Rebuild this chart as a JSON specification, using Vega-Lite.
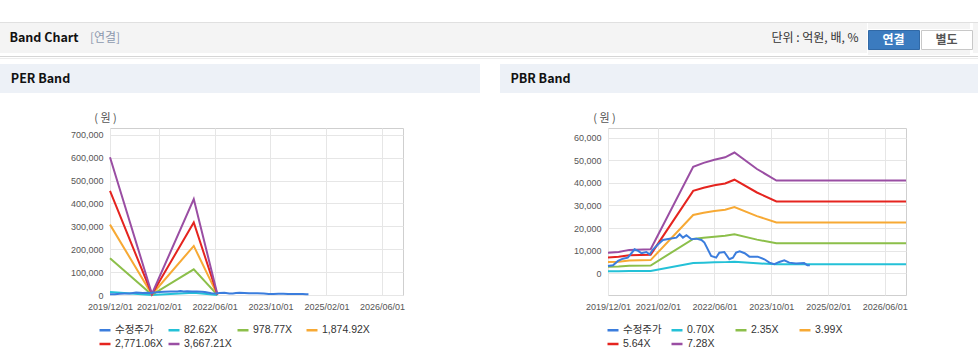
{
  "$schema": "https://vega.github.io/schema/vega-lite/v6.json",
  "background": "white",
  "padding": {"top": 21, "left": 0, "right": 0, "bottom": 0},
  "config": {"view": {"stroke": null}, "font": "Noto Sans CJK KR"},
  "datasets": {
    "price": [
      {"date": "2019-12-01", "series": "수정주가", "value": 3230},
      {"date": "2020-01-13", "series": "수정주가", "value": 3540},
      {"date": "2020-02-25", "series": "수정주가", "value": 5440},
      {"date": "2020-04-07", "series": "수정주가", "value": 6460},
      {"date": "2020-05-19", "series": "수정주가", "value": 6900},
      {"date": "2020-06-19", "series": "수정주가", "value": 8850},
      {"date": "2020-07-16", "series": "수정주가", "value": 10600},
      {"date": "2020-08-16", "series": "수정주가", "value": 9870},
      {"date": "2020-09-13", "series": "수정주가", "value": 8850},
      {"date": "2020-10-25", "series": "수정주가", "value": 9400},
      {"date": "2020-11-22", "series": "수정주가", "value": 8400},
      {"date": "2020-12-22", "series": "수정주가", "value": 10600},
      {"date": "2021-02-04", "series": "수정주가", "value": 12830},
      {"date": "2021-03-16", "series": "수정주가", "value": 14730},
      {"date": "2021-05-13", "series": "수정주가", "value": 15300},
      {"date": "2021-07-10", "series": "수정주가", "value": 15750},
      {"date": "2021-08-07", "series": "수정주가", "value": 17260},
      {"date": "2021-09-04", "series": "수정주가", "value": 15750},
      {"date": "2021-10-04", "series": "수정주가", "value": 16800},
      {"date": "2021-11-16", "series": "수정주가", "value": 15040},
      {"date": "2021-12-28", "series": "수정주가", "value": 15300},
      {"date": "2022-02-10", "series": "수정주가", "value": 14730},
      {"date": "2022-03-07", "series": "수정주가", "value": 13540},
      {"date": "2022-05-04", "series": "수정주가", "value": 7650},
      {"date": "2022-06-16", "series": "수정주가", "value": 6900},
      {"date": "2022-07-13", "series": "수정주가", "value": 9110},
      {"date": "2022-08-25", "series": "수정주가", "value": 9400},
      {"date": "2022-10-07", "series": "수정주가", "value": 6190},
      {"date": "2022-11-07", "series": "수정주가", "value": 6900},
      {"date": "2022-12-04", "series": "수정주가", "value": 9110},
      {"date": "2023-01-04", "series": "수정주가", "value": 9730},
      {"date": "2023-02-16", "series": "수정주가", "value": 8850},
      {"date": "2023-03-28", "series": "수정주가", "value": 7350},
      {"date": "2023-06-07", "series": "수정주가", "value": 7350},
      {"date": "2023-08-04", "series": "수정주가", "value": 6190},
      {"date": "2023-09-16", "series": "수정주가", "value": 4700},
      {"date": "2023-10-28", "series": "수정주가", "value": 3980},
      {"date": "2023-12-10", "series": "수정주가", "value": 5000},
      {"date": "2024-01-22", "series": "수정주가", "value": 5750},
      {"date": "2024-03-04", "series": "수정주가", "value": 4700},
      {"date": "2024-05-01", "series": "수정주가", "value": 4280},
      {"date": "2024-07-10", "series": "수정주가", "value": 4500},
      {"date": "2024-08-07", "series": "수정주가", "value": 3500},
      {"date": "2024-08-28", "series": "수정주가", "value": 3500}
    ],
    "perBands": [
      {"date": "2019-12-01", "series": "82.62X", "value": 13558},
      {"date": "2020-12-01", "series": "82.62X", "value": 99},
      {"date": "2021-12-01", "series": "82.62X", "value": 9452},
      {"date": "2022-06-25", "series": "82.62X", "value": 66},
      {"date": "2019-12-01", "series": "978.77X", "value": 160616},
      {"date": "2020-12-01", "series": "978.77X", "value": 1175},
      {"date": "2021-12-01", "series": "978.77X", "value": 111971},
      {"date": "2022-06-25", "series": "978.77X", "value": 783},
      {"date": "2019-12-01", "series": "1,874.92X", "value": 307674},
      {"date": "2020-12-01", "series": "1,874.92X", "value": 2250},
      {"date": "2021-12-01", "series": "1,874.92X", "value": 214491},
      {"date": "2022-06-25", "series": "1,874.92X", "value": 1500},
      {"date": "2019-12-01", "series": "2,771.06X", "value": 454731},
      {"date": "2020-12-01", "series": "2,771.06X", "value": 3325},
      {"date": "2021-12-01", "series": "2,771.06X", "value": 317009},
      {"date": "2022-06-25", "series": "2,771.06X", "value": 2217},
      {"date": "2019-12-01", "series": "3,667.21X", "value": 601789},
      {"date": "2020-12-01", "series": "3,667.21X", "value": 4401},
      {"date": "2021-12-01", "series": "3,667.21X", "value": 419529},
      {"date": "2022-06-25", "series": "3,667.21X", "value": 2934}
    ],
    "pbrBands": [
      {"date": "2019-12-01", "series": "0.70X", "value": 868},
      {"date": "2020-03-01", "series": "0.70X", "value": 903},
      {"date": "2020-06-01", "series": "0.70X", "value": 994},
      {"date": "2020-12-01", "series": "0.70X", "value": 1022},
      {"date": "2021-12-01", "series": "0.70X", "value": 4522},
      {"date": "2022-03-01", "series": "0.70X", "value": 4690},
      {"date": "2022-06-01", "series": "0.70X", "value": 4823},
      {"date": "2022-09-01", "series": "0.70X", "value": 4928},
      {"date": "2022-11-20", "series": "0.70X", "value": 5131},
      {"date": "2023-06-01", "series": "0.70X", "value": 4431},
      {"date": "2023-11-15", "series": "0.70X", "value": 3941},
      {"date": "2026-12-01", "series": "0.70X", "value": 3941},
      {"date": "2019-12-01", "series": "2.35X", "value": 2914},
      {"date": "2020-03-01", "series": "2.35X", "value": 3032},
      {"date": "2020-06-01", "series": "2.35X", "value": 3337},
      {"date": "2020-12-01", "series": "2.35X", "value": 3431},
      {"date": "2021-12-01", "series": "2.35X", "value": 15181},
      {"date": "2022-03-01", "series": "2.35X", "value": 15745},
      {"date": "2022-06-01", "series": "2.35X", "value": 16192},
      {"date": "2022-09-01", "series": "2.35X", "value": 16544},
      {"date": "2022-11-20", "series": "2.35X", "value": 17226},
      {"date": "2023-06-01", "series": "2.35X", "value": 14876},
      {"date": "2023-11-15", "series": "2.35X", "value": 13231},
      {"date": "2026-12-01", "series": "2.35X", "value": 13231},
      {"date": "2019-12-01", "series": "3.99X", "value": 4948},
      {"date": "2020-03-01", "series": "3.99X", "value": 5147},
      {"date": "2020-06-01", "series": "3.99X", "value": 5666},
      {"date": "2020-12-01", "series": "3.99X", "value": 5825},
      {"date": "2021-12-01", "series": "3.99X", "value": 25775},
      {"date": "2022-03-01", "series": "3.99X", "value": 26733},
      {"date": "2022-06-01", "series": "3.99X", "value": 27491},
      {"date": "2022-09-01", "series": "3.99X", "value": 28090},
      {"date": "2022-11-20", "series": "3.99X", "value": 29247},
      {"date": "2023-06-01", "series": "3.99X", "value": 25257},
      {"date": "2023-11-15", "series": "3.99X", "value": 22464},
      {"date": "2026-12-01", "series": "3.99X", "value": 22464},
      {"date": "2019-12-01", "series": "5.64X", "value": 6994},
      {"date": "2020-03-01", "series": "5.64X", "value": 7276},
      {"date": "2020-06-01", "series": "5.64X", "value": 8009},
      {"date": "2020-12-01", "series": "5.64X", "value": 8234},
      {"date": "2021-12-01", "series": "5.64X", "value": 36434},
      {"date": "2022-03-01", "series": "5.64X", "value": 37788},
      {"date": "2022-06-01", "series": "5.64X", "value": 38860},
      {"date": "2022-09-01", "series": "5.64X", "value": 39706},
      {"date": "2022-11-20", "series": "5.64X", "value": 41341},
      {"date": "2023-06-01", "series": "5.64X", "value": 35701},
      {"date": "2023-11-15", "series": "5.64X", "value": 31753},
      {"date": "2026-12-01", "series": "5.64X", "value": 31753},
      {"date": "2019-12-01", "series": "7.28X", "value": 9027},
      {"date": "2020-03-01", "series": "7.28X", "value": 9391},
      {"date": "2020-06-01", "series": "7.28X", "value": 10338},
      {"date": "2020-12-01", "series": "7.28X", "value": 10629},
      {"date": "2021-12-01", "series": "7.28X", "value": 47029},
      {"date": "2022-03-01", "series": "7.28X", "value": 48776},
      {"date": "2022-06-01", "series": "7.28X", "value": 50159},
      {"date": "2022-09-01", "series": "7.28X", "value": 51251},
      {"date": "2022-11-20", "series": "7.28X", "value": 53362},
      {"date": "2023-06-01", "series": "7.28X", "value": 46082},
      {"date": "2023-11-15", "series": "7.28X", "value": 40986},
      {"date": "2026-12-01", "series": "7.28X", "value": 40986}
    ]
  },
  "spacing": 0,
  "vconcat": [
    {"width": 978, "height": 1, "view": {"fill": "#e0e0e0", "stroke": null}, "data": {"values": [{"label": ""}]}, "mark": {"type": "text", "fontSize": 1}, "encoding": {"text": {"field": "label"}}},
    {
      "spacing": 0,
      "hconcat": [
        {"width": 88, "height": 30, "view": {"fill": "#f4f4f4", "stroke": null}, "data": {"values": [{"label": "Band Chart"}]}, "mark": {"type": "text", "fontSize": 12.5, "fontWeight": "bold", "color": "#111111"}, "encoding": {"text": {"field": "label"}}},
        {"width": 34, "height": 30, "view": {"fill": "#f4f4f4", "stroke": null}, "data": {"values": [{"label": "[연결]"}]}, "mark": {"type": "text", "fontSize": 12, "color": "#8c99ae"}, "encoding": {"text": {"field": "label"}}},
        {"width": 645, "height": 30, "view": {"fill": "#f4f4f4", "stroke": null}, "data": {"values": [{"label": ""}]}, "mark": {"type": "text", "fontSize": 1}, "encoding": {"text": {"field": "label"}}},
        {"width": 96, "height": 30, "view": {"fill": "#f4f4f4", "stroke": null}, "data": {"values": [{"label": "단위 : 억원, 배, %"}]}, "mark": {"type": "text", "fontSize": 12, "color": "#333333"}, "encoding": {"text": {"field": "label"}}},
        {"width": 4, "height": 30, "view": {"fill": "#f4f4f4", "stroke": null}, "data": {"values": [{"label": ""}]}, "mark": {"type": "text", "fontSize": 1}, "encoding": {"text": {"field": "label"}}},
        {
          "spacing": 0,
          "vconcat": [
            {"width": 102, "height": 6, "view": {"fill": "#f4f4f4", "stroke": null}, "data": {"values": [{"label": ""}]}, "mark": {"type": "text", "fontSize": 1}, "encoding": {"text": {"field": "label"}}},
            {
              "spacing": 0,
              "hconcat": [
                {"width": 51, "height": 19, "view": {"fill": "#3b7bbf", "stroke": "#3169a6"}, "data": {"values": [{"label": "연결"}]}, "mark": {"type": "text", "fontSize": 12, "fontWeight": "bold", "color": "#ffffff"}, "encoding": {"text": {"field": "label"}}},
                {"width": 51, "height": 19, "view": {"fill": "#ffffff", "stroke": "#c8c8c8"}, "data": {"values": [{"label": "별도"}]}, "mark": {"type": "text", "fontSize": 12, "fontWeight": "bold", "color": "#555555"}, "encoding": {"text": {"field": "label"}}}
              ]
            },
            {"width": 102, "height": 5, "view": {"fill": "#f4f4f4", "stroke": null}, "data": {"values": [{"label": ""}]}, "mark": {"type": "text", "fontSize": 1}, "encoding": {"text": {"field": "label"}}}
          ]
        },
        {"width": 9, "height": 30, "view": {"fill": "#f4f4f4", "stroke": null}, "data": {"values": [{"label": ""}]}, "mark": {"type": "text", "fontSize": 1}, "encoding": {"text": {"field": "label"}}}
      ]
    },
    {"width": 978, "height": 1, "view": {"fill": "#d6d6d6", "stroke": null}, "data": {"values": [{"label": ""}]}, "mark": {"type": "text", "fontSize": 1}, "encoding": {"text": {"field": "label"}}},
    {"width": 978, "height": 1, "view": {"fill": "#ececec", "stroke": null}, "data": {"values": [{"label": ""}]}, "mark": {"type": "text", "fontSize": 1}, "encoding": {"text": {"field": "label"}}},
    {"width": 978, "height": 5, "view": {"stroke": null}, "data": {"values": [{"label": ""}]}, "mark": {"type": "text", "fontSize": 1}, "encoding": {"text": {"field": "label"}}},
    {
      "spacing": 0,
      "hconcat": [
        {"width": 81, "height": 29, "view": {"fill": "#edf1f7", "stroke": null}, "data": {"values": [{"label": "PER Band"}]}, "mark": {"type": "text", "fontSize": 12.5, "fontWeight": "bold", "color": "#111111"}, "encoding": {"text": {"field": "label"}}},
        {"width": 399, "height": 29, "view": {"fill": "#edf1f7", "stroke": null}, "data": {"values": [{"label": ""}]}, "mark": {"type": "text", "fontSize": 1}, "encoding": {"text": {"field": "label"}}},
        {"width": 20, "height": 29, "view": {"stroke": null}, "data": {"values": [{"label": ""}]}, "mark": {"type": "text", "fontSize": 1}, "encoding": {"text": {"field": "label"}}},
        {"width": 81, "height": 29, "view": {"fill": "#edf1f7", "stroke": null}, "data": {"values": [{"label": "PBR Band"}]}, "mark": {"type": "text", "fontSize": 12.5, "fontWeight": "bold", "color": "#111111"}, "encoding": {"text": {"field": "label"}}},
        {"width": 397, "height": 29, "view": {"fill": "#edf1f7", "stroke": null}, "data": {"values": [{"label": ""}]}, "mark": {"type": "text", "fontSize": 1}, "encoding": {"text": {"field": "label"}}}
      ]
    },
    {"width": 978, "height": 18, "view": {"stroke": null}, "data": {"values": [{"label": ""}]}, "mark": {"type": "text", "fontSize": 1}, "encoding": {"text": {"field": "label"}}},
    {
      "spacing": 0,
      "hconcat": [
        {"width": 1, "height": 10, "view": {"stroke": null}, "data": {"values": [{"label": ""}]}, "mark": {"type": "text", "fontSize": 1}, "encoding": {"text": {"field": "label"}}},
        {
          "spacing": 101,
          "resolve": {"scale": {"color": "independent", "x": "independent", "y": "independent"}, "legend": {"color": "independent"}, "axis": {"x": "independent", "y": "independent"}},
          "hconcat": [
            {
              "width": 293,
              "height": 167,
              "view": {"stroke": "#cfcfcf"},
              "encoding": {
                "x": {
                  "field": "date", "type": "temporal",
                  "scale": {"type": "utc", "domain": [{"year": 2019, "month": 12, "date": 1, "utc": true}, {"year": 2026, "month": 12, "date": 1, "utc": true}]},
                  "axis": {
                    "title": null, "format": "%Y/%m/%d",
                    "values": [{"year": 2019, "month": 12, "date": 1, "utc": true}, {"year": 2021, "month": 2, "date": 1, "utc": true}, {"year": 2022, "month": 6, "date": 1, "utc": true}, {"year": 2023, "month": 10, "date": 1, "utc": true}, {"year": 2025, "month": 2, "date": 1, "utc": true}, {"year": 2026, "month": 6, "date": 1, "utc": true}],
                    "labelFont": "Liberation Sans", "labelFontSize": 9, "labelColor": "#555555",
                    "ticks": false, "tickSize": 0, "domain": false, "labelPadding": 7,
                    "grid": true, "gridColor": "#e6e6e6", "labelFlush": false, "labelOverlap": false, "labelBound": false
                  }
                },
                "y": {
                  "field": "value", "type": "quantitative",
                  "scale": {"domain": [0, 730000], "nice": false, "zero": false},
                  "axis": {
                    "values": [0, 100000, 200000, 300000, 400000, 500000, 600000, 700000], "format": ",d",
                    "title": "( 원 )", "titleAngle": 0, "titleX": -5, "titleY": -10, "titleAlign": "center", "titleBaseline": "middle",
                    "titleFontSize": 11, "titleFontWeight": "normal", "titleColor": "#555555", "titleFont": "Noto Sans CJK KR",
                    "labelFont": "Liberation Sans", "labelFontSize": 9, "labelColor": "#555555",
                    "ticks": false, "tickSize": 0, "domain": false, "labelPadding": 7,
                    "grid": true, "gridColor": "#e6e6e6", "minExtent": 108
                  }
                },
                "color": {
                  "field": "series", "type": "nominal",
                  "scale": {"domain": ["수정주가", "82.62X", "978.77X", "1,874.92X", "2,771.06X", "3,667.21X"], "range": ["#3b7ddd", "#24c1d7", "#8cbf4a", "#f7a934", "#e5241f", "#9a4ea3"]},
                  "legend": {
                    "title": null, "orient": "none", "legendX": -12, "legendY": 195, "direction": "horizontal", "columns": 4, "gridAlign": "all",
                    "columnPadding": 0, "rowPadding": 1, "padding": 0, "symbolType": "stroke", "symbolSize": 121, "symbolStrokeWidth": 2.5,
                    "labelFont": "Liberation Sans, Noto Sans CJK KR", "labelFontSize": 10.5, "labelColor": "#333333", "labelOffset": 3
                  }
                }
              },
              "layer": [
                {"data": {"name": "perBands"}, "mark": {"type": "line", "strokeWidth": 2}},
                {"data": {"name": "price"}, "mark": {"type": "line", "strokeWidth": 2}}
              ]
            },
            {
              "width": 298,
              "height": 167,
              "view": {"stroke": "#cfcfcf"},
              "encoding": {
                "x": {
                  "field": "date", "type": "temporal",
                  "scale": {"type": "utc", "domain": [{"year": 2019, "month": 12, "date": 1, "utc": true}, {"year": 2026, "month": 12, "date": 1, "utc": true}]},
                  "axis": {
                    "title": null, "format": "%Y/%m/%d",
                    "values": [{"year": 2019, "month": 12, "date": 1, "utc": true}, {"year": 2021, "month": 2, "date": 1, "utc": true}, {"year": 2022, "month": 6, "date": 1, "utc": true}, {"year": 2023, "month": 10, "date": 1, "utc": true}, {"year": 2025, "month": 2, "date": 1, "utc": true}, {"year": 2026, "month": 6, "date": 1, "utc": true}],
                    "labelFont": "Liberation Sans", "labelFontSize": 9, "labelColor": "#555555",
                    "ticks": false, "tickSize": 0, "domain": false, "labelPadding": 7,
                    "grid": true, "gridColor": "#e6e6e6", "labelFlush": false, "labelOverlap": false, "labelBound": false
                  }
                },
                "y": {
                  "field": "value", "type": "quantitative",
                  "scale": {"domain": [-9600, 64200], "nice": false, "zero": false},
                  "axis": {
                    "values": [0, 10000, 20000, 30000, 40000, 50000, 60000], "format": ",d",
                    "title": "( 원 )", "titleAngle": 0, "titleX": -4, "titleY": -10, "titleAlign": "center", "titleBaseline": "middle",
                    "titleFontSize": 11, "titleFontWeight": "normal", "titleColor": "#555555", "titleFont": "Noto Sans CJK KR",
                    "labelFont": "Liberation Sans", "labelFontSize": 9, "labelColor": "#555555",
                    "ticks": false, "tickSize": 0, "domain": false, "labelPadding": 7,
                    "grid": true, "gridColor": "#e6e6e6", "minExtent": 100
                  }
                },
                "color": {
                  "field": "series", "type": "nominal",
                  "scale": {"domain": ["수정주가", "0.70X", "2.35X", "3.99X", "5.64X", "7.28X"], "range": ["#3b7ddd", "#24c1d7", "#8cbf4a", "#f7a934", "#e5241f", "#9a4ea3"]},
                  "legend": {
                    "title": null, "orient": "none", "legendX": -2, "legendY": 195, "direction": "horizontal", "columns": 4, "gridAlign": "all",
                    "columnPadding": 4, "rowPadding": 1, "padding": 0, "symbolType": "stroke", "symbolSize": 121, "symbolStrokeWidth": 2.5,
                    "labelFont": "Liberation Sans, Noto Sans CJK KR", "labelFontSize": 10.5, "labelColor": "#333333", "labelOffset": 3
                  }
                }
              },
              "layer": [
                {"data": {"name": "pbrBands"}, "mark": {"type": "line", "strokeWidth": 2}},
                {"data": {"name": "price"}, "mark": {"type": "line", "strokeWidth": 2}}
              ]
            }
          ]
        }
      ]
    }
  ]
}
